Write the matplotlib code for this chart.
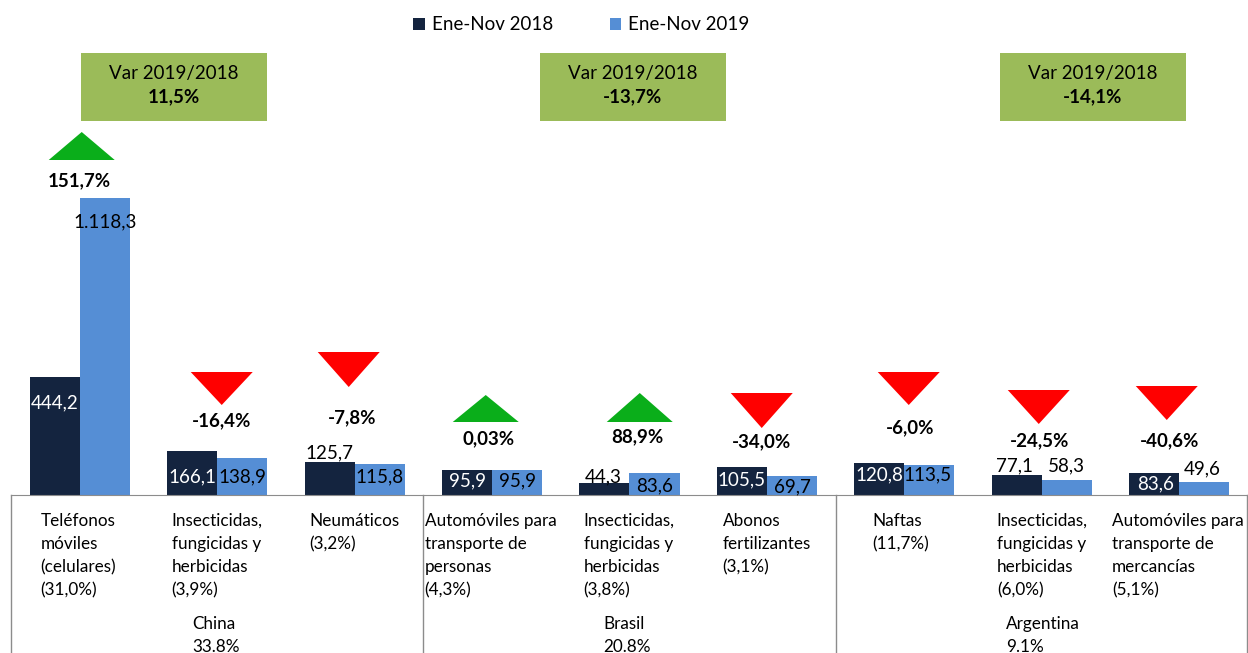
import numpy as np
import matplotlib.pyplot as plt
from matplotlib.patches import Polygon, Rectangle

plt.rcParams['font.family'] = ['Lato', 'DejaVu Sans']

# Data
cats = ['Teléfonos\nmóviles\n(celulares)\n(31,0%)',
        'Insecticidas,\nfungicidas y\nherbicidas\n(3,9%)',
        'Neumáticos\n(3,2%)',
        'Automóviles para\ntransporte de\npersonas\n(4,3%)',
        'Insecticidas,\nfungicidas y\nherbicidas\n(3,8%)',
        'Abonos\nfertilizantes\n(3,1%)',
        'Naftas\n(11,7%)',
        'Insecticidas,\nfungicidas y\nherbicidas\n(6,0%)',
        'Automóviles para\ntransporte de\nmercancías\n(5,1%)']
v2018 = [444.2, 166.1, 125.7, 95.9, 44.3, 105.5, 120.8, 77.1, 83.6]
v2019 = [1118.3, 138.9, 115.8, 95.9, 83.6, 69.7, 113.5, 58.3, 49.6]
var_lbl = ['151,7%', '-16,4%', '-7,8%', '0,03%', '88,9%', '-34,0%', '-6,0%', '-24,5%', '-40,6%']
countries = ['China\n33.8%', 'Brasil\n20.8%', 'Argentina\n9.1%']
country_var = ['11,5%', '-13,7%', '-14,1%']

c18 = '#14243f'
c19 = '#558ed5'
green_box = '#9bbb59'
up_col = '#0aae1a'
down_col = '#ff0000'

W, H = 1248, 653
base_px = 495
scale = 0.2656  # px per unit


def X(px):
    return (px - 80) / 137.44


def Y(py):
    return (base_px - py) / scale


def fmt(v):
    s = f'{v:,.1f}'
    return s.replace(',', 'X').replace('.', ',').replace('X', '.')


fig = plt.figure(figsize=(W / 100, H / 100), dpi=100)
ax = fig.add_axes([11 / W, (H - base_px) / H, 1 - 11 / W, base_px / H])
x = np.arange(len(cats))
bw = 0.364
ax.bar(x - bw / 2, v2018, bw, color=c18, label='Ene-Nov 2018')
ax.bar(x + bw / 2, v2019, bw, color=c19, label='Ene-Nov 2019')
ax.set_xlim(-0.5, 8.5)
ax.set_ylim(0, Y(0))
for s in ['top', 'right', 'left']:
    ax.spines[s].set_visible(False)
ax.spines['bottom'].set_color('#8c8c8c')
ax.set_xticks([])
ax.set_yticks([])

# value labels: (y pixel, text colour, x offset px)
lab18 = [(403, 'white', 0), (477, 'white', 0), (453, 'black', 0), (481, 'white', 0),
         (477, 'black', -1), (480, 'white', 0), (475, 'white', 0), (466, 'black', -2),
         (484, 'white', 1)]
lab19 = [(222, 'black', 0), (477, 'black', 0), (477, 'black', 0), (481, 'black', 0),
         (486, 'black', 0), (487, 'black', 0), (475, 'black', -2), (466, 'black', 0),
         (469, 'black', -2)]
for i in range(len(cats)):
    py, col, dx = lab18[i]
    ax.text(i - bw / 2 + dx / 137.44, Y(py), fmt(v2018[i]), ha='center', va='center',
            color=col, fontsize=13.5)
    py, col, dx = lab19[i]
    ax.text(i + bw / 2 + dx / 137.44, Y(py), fmt(v2019[i]), ha='center', va='center',
            color=col, fontsize=13.5)

# variation triangles: (centre x px, apex/top y px, base y px), label position
tri = [(82, 132, 160), (222, 405, 372), (349, 387, 352), (486, 395, 422), (640, 393, 422),
       (762, 428, 393), (909, 405, 372), (1039, 424, 390), (1167, 420, 386)]
tri_lab = [(80, 181), (222, 421), (352, 418), (489, 439), (638, 437),
           (762, 442), (910, 428), (1040, 441), (1170, 441)]
for i, (cx, yt, yb) in enumerate(tri):
    up = not var_lbl[i].startswith('-')
    hw = 33 if up else 31
    pts = [(X(cx - hw), Y(yb)), (X(cx + hw), Y(yb)), (X(cx), Y(yt))]
    ax.add_patch(Polygon(pts, closed=True, color=up_col if up else down_col,
                         clip_on=False, lw=0))
    lx, ly = tri_lab[i]
    ax.text(X(lx), Y(ly), var_lbl[i], ha='center', va='center', fontsize=13.5,
            fontweight='bold')

# country variation boxes
box_x = [81, 540, 1000]
for bx, cv in zip(box_x, country_var):
    ax.add_patch(Rectangle((X(bx), Y(121)), 186 / 137.44, (121 - 53) / scale,
                           color=green_box, clip_on=False, lw=0))
    ax.text(X(bx + 93), Y(74), 'Var 2019/2018', ha='center', va='center', fontsize=13.5)
    ax.text(X(bx + 93), Y(97), cv, ha='center', va='center', fontsize=13.5,
            fontweight='bold')

# category labels under the axis
cat_x = [41, 172, 310, 425, 584, 723, 873, 997, 1112]
for cx, c in zip(cat_x, cats):
    ax.text(X(cx), Y(513), c, ha='left', va='top', fontsize=12.3, linespacing=1.55,
            clip_on=False)

# country labels and separators
ctry_x = [193, 604, 1006]
for cx, c in zip(ctry_x, countries):
    ax.text(X(cx), Y(616), c, ha='left', va='top', fontsize=12.3, linespacing=1.55,
            clip_on=False)
for sx in [-0.5, 2.5, 5.5, 8.495]:
    ax.plot([sx, sx], [0, Y(H)], color='#8c8c8c', lw=1, clip_on=False)

fig.legend(loc='center', bbox_to_anchor=(0.466, 1 - 25 / H), ncol=2, frameon=False,
           fontsize=13.5, handlelength=0.6, handleheight=0.6, handletextpad=0.4,
           columnspacing=3.0)

fig.savefig('out.png', dpi=100)
